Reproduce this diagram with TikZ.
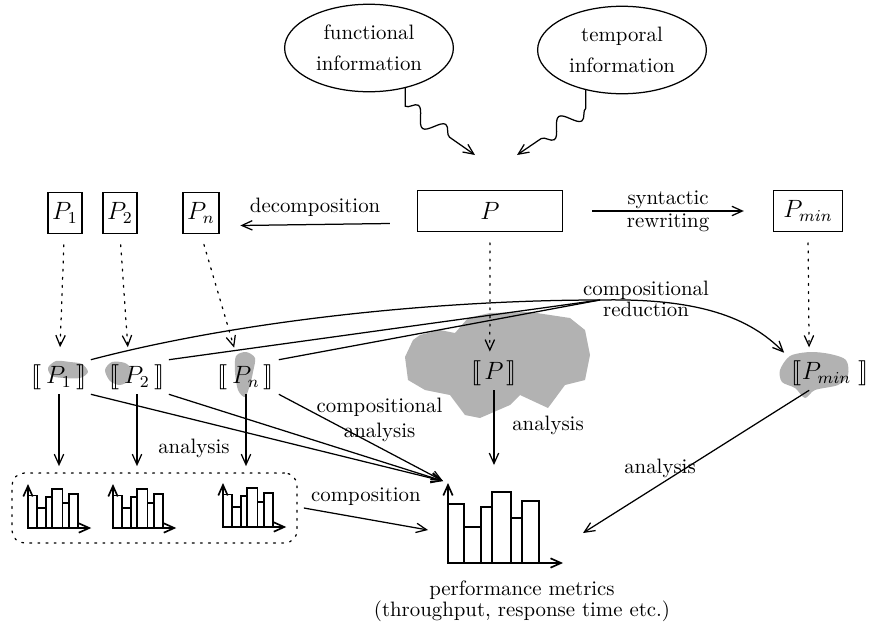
\documentclass[tikz,border=0pt]{standalone}
\usepackage{stmaryrd}
\usetikzlibrary{
  arrows.meta,
  shapes.geometric,
  decorations.pathmorphing,
  positioning
}

\tikzset{
  histo/.pic={
    \foreach \a/\b/\h in {0/16/59,16/33/36,33/44/56,44/63/71,63/74/45,74/91/62}
      \draw[line width=0.8pt] (\a,0) rectangle (\b,-\h);
    \draw[->,line width=0.8pt] (0,0) -- (0,-80);
    \draw[->,line width=0.8pt] (0,0) -- (115,0);
  }
}

\begin{document}
\begin{tikzpicture}[x=0.48pt,y=-0.48pt,line width=0.6pt,
  >={Straight Barb[length=5pt,width=4.5pt]},
  every text node part/.style={align=center},
  info/.style={ellipse,draw,minimum width=81pt,minimum height=42pt,inner sep=0pt},
  prog/.style={rectangle,draw,font=\large,inner sep=2pt,minimum height=20pt},
  sem/.style={font=\large,inner sep=2pt},
  blob/.style={fill=black!30,draw=none},
  dots/.style={dash pattern=on 0.9pt off 3pt,line cap=round},
  wiggle/.style={decoration={snake,amplitude=4pt,segment length=16pt,post length=8pt}}]
  \useasboundingbox (0,0) rectangle (870,624);

  % shaded regions behind the semantics
  \fill[blob] (405,357) -- (413,340) -- (420,335) -- (440,330) -- (455,333) -- (468,318)
    -- (490,313) -- (530,312) -- (570,318) -- (585,330) -- (590,355) -- (585,380)
    -- (565,385) -- (548,408) -- (520,395) -- (510,405) -- (480,418) -- (465,415)
    -- (450,395) -- (425,390) -- (408,380) -- cycle;
  \fill[blob] plot[smooth cycle] coordinates {(48,368) (56,361) (70,362) (82,364) (88,372) (80,378) (64,378) (52,376)};
  \fill[blob] plot[smooth cycle] coordinates {(105,370) (112,362) (125,363) (132,370) (130,380) (120,385) (110,381)};
  \fill[blob] plot[smooth cycle] coordinates {(236,356) (246,352) (255,358) (253,372) (250,385) (245,397) (238,390) (235,372)};
  \fill[blob] plot[smooth cycle] coordinates {(780,370) (790,356) (810,352) (830,354) (846,360) (848,375) (838,385) (815,390) (805,398) (795,388) (782,382)};

  % information
  \node[info] (func) at (369,48) {functional\\[3pt]information};
  \node[info] (temp) at (622,50) {temporal\\[3pt]information};
  \coordinate (fIn) at (475,155);
  \coordinate (tIn) at (517,155);
  \draw[->,wiggle] (func.-48) -- ++(0,18) decorate {-- (fIn)};
  \draw[->,wiggle] (temp.-132) -- ++(0,18) decorate {-- (tIn)};

  % programs
  \node[prog,minimum width=69.6pt] (P) at (490,211) {$P$};
  \node[prog] (P1) at (65,213) {$P_1$};
  \node[prog] (P2) at (120,213) {$P_2$};
  \node[prog] (Pn) at (201,213) {$P_n$};
  \node[prog,minimum width=33pt] (Pmin) at (808,211) {$P_{min}$};
  \draw[->] ([xshift=-13pt,yshift=-6pt]P.west) -- ([xshift=10pt,yshift=-6pt]Pn.east)
    node[midway,above] {decomposition};
  \draw[->] ([xshift=14pt]P.east) -- ([xshift=-14pt]Pmin.west)
    node[midway,above,inner sep=1pt] {syntactic} node[midway,below,inner sep=1pt] {rewriting};

  % semantics
  \node[sem] (sP1) at (59,377) {$\llbracket\, P_1\,\rrbracket$};
  \node[sem] (sP2) at (137,377) {$\llbracket\, P_2\,\rrbracket$};
  \node[sem] (sPn) at (246,377) {$\llbracket\, P_n\,\rrbracket$};
  \node[sem] (sP) at (494,373) {$\llbracket\!\;P\;\!\rrbracket$};
  \node[sem] (sPmin) at (830,373) {$\llbracket P_{min}\;\rrbracket$};
  \draw[dots,->,shorten <=5pt,shorten >=6pt] (P1) -- (sP1);
  \draw[dots,->,shorten <=5pt,shorten >=6pt] (P2.south) -- ([xshift=-4pt]sP2.north);
  \draw[dots,->,shorten <=5pt,shorten >=6pt] (Pn.south) -- ([xshift=-4pt]sPn.north);
  \draw[dots,->,shorten <=5pt,shorten >=2pt] (P.south) -- ([xshift=-2pt]sP.north);
  \draw[dots,->,shorten <=5pt,shorten >=4pt] (Pmin.south) -- ([xshift=-10pt]sPmin.north);

  % compositional reduction
  \coordinate (red) at (600,300);
  \draw (sP1.north east) .. controls (250,318) and (450,300) .. (red);
  \draw (sP2.north east) -- (red);
  \draw (sPn.north east) -- (red);
  \draw[->,shorten >=2pt] (red) .. controls (700,298) and (750,318) .. (sPmin.north west);
  \node (redLbl) at (646,299) {compositional\\[-2pt]reduction};

  % metrics
  \node[draw,dots,rounded corners=6pt,minimum width=136.8pt,minimum height=33.6pt] (grp) at (154.5,508) {};
  \pic[scale=0.55] at (28,528) {histo};
  \pic[scale=0.55] at (113,528) {histo};
  \pic[scale=0.55] at (223,527) {histo};
  \pic at (448,563) {histo};
  \coordinate (metL) at (443,481);
  \coordinate (metW) at (428,530);
  \coordinate (metE) at (583,533);
  \coordinate (metN) at (495,465);
  \node (perf) at (522,601) {performance metrics\\[-2pt](throughput, response time etc.)};

  % analysis
  \draw[->,shorten >=3pt] (sP1.south) -- (sP1.south |- grp.north);
  \draw[->,shorten >=3pt] (sP2.south) -- (sP2.south |- grp.north);
  \draw[->,shorten >=3pt] (sPn.south) -- (sPn.south |- grp.north);
  \node (anaG) at (194,448) {analysis};
  \draw[->] (sP1.south east) -- (metL);
  \draw[->] (sP2.south east) -- (metL);
  \draw[->] (sPn.south east) -- (metL);
  \node[align=right,anchor=east] (anaC) at (450,420) {compositional\\analysis};
  \draw[->] (sP.south) -- (sP.south |- metN);
  \node (anaP) at (548,425) {analysis};
  \draw[->] ([xshift=-10pt]sPmin.south) -- (metE);
  \node (anaM) at (660,468) {analysis};
  \draw[->] ([xshift=3pt]grp.east) -- (metW) node[midway,above=3pt] {composition};
\end{tikzpicture}
\end{document}
